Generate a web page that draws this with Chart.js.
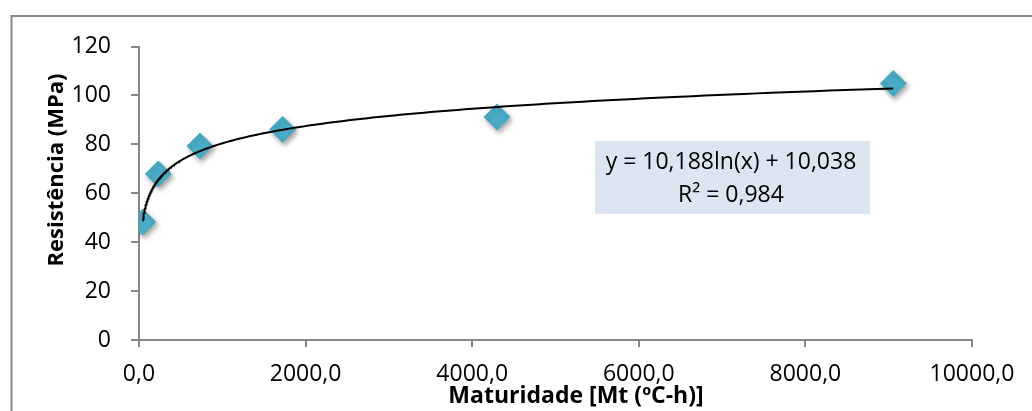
<!DOCTYPE html>
<html>
<head>
<meta charset="utf-8">
<script src="https://cdn.jsdelivr.net/npm/chart.js@4.4.1/dist/chart.umd.min.js"></script>
<style>
  html, body { margin: 0; padding: 0; background: #fff; }
  #wrap { width: 1032px; height: 411px; }
</style>
</head>
<body>
<div id="wrap"><canvas id="c" width="1032" height="411"></canvas></div>
<script>
// ---- data ----
const maturidade = [45, 232, 732, 1725, 4298, 9055];          // x: Mt (ºC-h)
const resistencia = [48.2, 67.9, 79.3, 86.1, 91.2, 104.9];     // y: MPa
const trendCoef = [10.188, 10.038];                            // y = a ln(x) + b
const xTickLabels = ['0,0', '2000,0', '4000,0', '6000,0', '8000,0', '10000,0'];
const yTickLabels = ['0', '20', '40', '60', '80', '100', '120'];
const eqLines = ['y = 10,188ln(x) + 10,038', 'R² = 0,984'];
const xTitle = 'Maturidade [Mt (ºC-h)]';
const yTitle = 'Resistência (MPa)';

const FONT = "'Open Sans', 'Liberation Sans', sans-serif";

const scatterPts = maturidade.map((x, i) => ({ x: x, y: resistencia[i] }));

// trendline from the equation shown in the chart, over the data range
const trendPts = [];
{
  const x0 = Math.min(...maturidade), x1 = Math.max(...maturidade);
  const n = 240;
  for (let i = 0; i <= n; i++) {
    const x = Math.exp(Math.log(x0) + (Math.log(x1) - Math.log(x0)) * i / n);
    trendPts.push({ x: x, y: trendCoef[0] * Math.log(x) + trendCoef[1] });
  }
}

const decor = {
  id: 'decor',
  beforeDraw(chart) {
    const ctx = chart.ctx;
    ctx.save();
    ctx.fillStyle = '#fff';
    ctx.fillRect(0, 0, chart.width, chart.height);
    ctx.strokeStyle = '#878787';
    ctx.lineWidth = 2;
    ctx.strokeRect(11.5, 16, 1200, 600);
    ctx.restore();
  },
  beforeDatasetDraw(chart, args) {
    if (args.index === 1) {
      const ctx = chart.ctx;
      ctx.save();
      ctx.shadowColor = 'rgba(0,0,0,0.35)';
      ctx.shadowBlur = 5;
      ctx.shadowOffsetX = 2;
      ctx.shadowOffsetY = 3;
    }
  },
  afterDatasetDraw(chart, args) {
    if (args.index === 1) chart.ctx.restore();
  },
  afterDraw(chart) {
    const ctx = chart.ctx;
    ctx.save();
    // equation box
    ctx.fillStyle = '#DCE6F2';
    ctx.fillRect(595, 141, 275, 73);
    ctx.fillStyle = '#000';
    ctx.font = '23px ' + FONT;
    ctx.textAlign = 'center';
    ctx.textBaseline = 'middle';
    ctx.fillText(eqLines[0], 731, 162);
    ctx.fillText(eqLines[1], 731, 195);
    // axis titles
    ctx.font = 'bold 23px ' + FONT;
    ctx.fillText(xTitle, 576, 396);
    ctx.font = 'bold 22px ' + FONT;
    ctx.translate(57, 170);
    ctx.rotate(-Math.PI / 2);
    ctx.fillText(yTitle, 0, 0);
    ctx.restore();
  }
};

new Chart(document.getElementById('c'), {
  type: 'scatter',
  data: {
    datasets: [
      {
        type: 'line',
        label: 'trend',
        data: trendPts,
        borderColor: '#000',
        borderWidth: 2,
        pointRadius: 0,
        fill: false,
        tension: 0
      },
      {
        label: 'Resistência',
        data: scatterPts,
        pointStyle: 'rectRot',
        pointRadius: 13,
        pointHoverRadius: 13,
        backgroundColor: '#4BACC6',
        borderColor: '#4BACC6',
        borderWidth: 1
      }
    ]
  },
  options: {
    responsive: false,
    animation: false,
    devicePixelRatio: 1,
    layout: { padding: { left: 0, right: 60, top: 46.5, bottom: 0 } },
    plugins: { legend: { display: false }, tooltip: { enabled: false } },
    scales: {
      x: {
        type: 'linear',
        min: 0, max: 10000,
        afterBuildTicks: s => { s.ticks = xTickLabels.map((_, i) => ({ value: i * 2000 })); },
        afterFit: s => { s.height = 71; },
        ticks: {
          autoSkip: false,
          maxRotation: 0,
          padding: 14,
          color: '#000',
          font: { family: FONT, size: 23 },
          callback: (v, i) => xTickLabels[i]
        },
        grid: { display: true, drawOnChartArea: false, drawTicks: true, tickLength: 7, color: '#878787', lineWidth: 2 },
        border: { display: true, color: '#878787', width: 2 }
      },
      y: {
        type: 'linear',
        min: 0, max: 120,
        afterBuildTicks: s => { s.ticks = yTickLabels.map((_, i) => ({ value: i * 20 })); },
        afterFit: s => { s.width = 139; },
        ticks: {
          padding: 20,
          color: '#000',
          font: { family: FONT, size: 23 },
          callback: (v, i) => yTickLabels[i]
        },
        grid: { display: true, drawOnChartArea: false, drawTicks: true, tickLength: 8, color: '#878787', lineWidth: 2 },
        border: { display: true, color: '#878787', width: 2 }
      }
    }
  },
  plugins: [decor]
});
</script>
</body>
</html>
